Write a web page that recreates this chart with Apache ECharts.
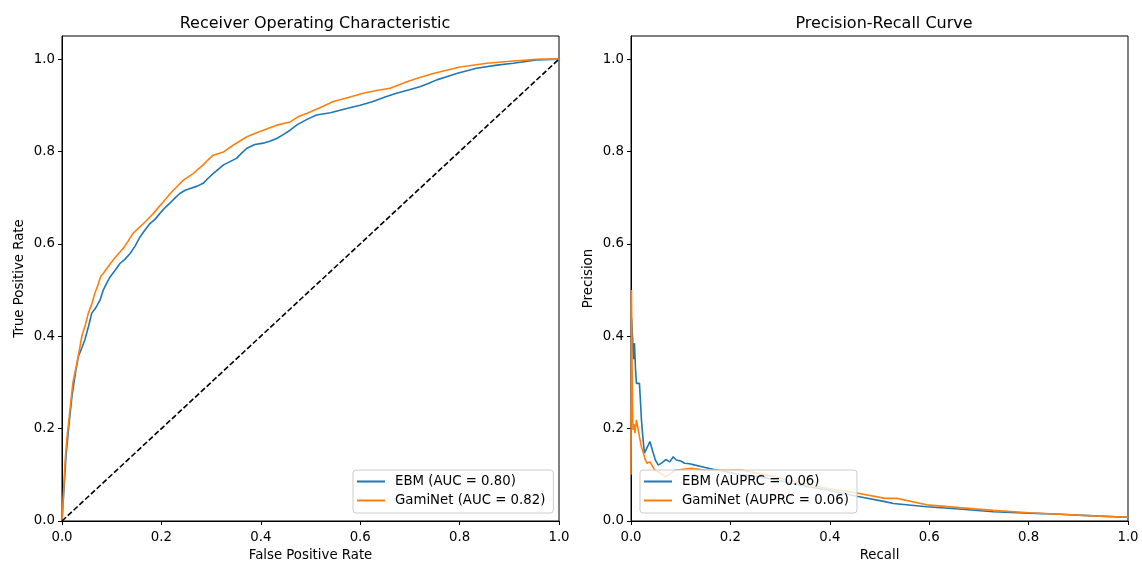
<!DOCTYPE html>
<html>
<head>
<meta charset="utf-8">
<script src="https://cdn.jsdelivr.net/npm/echarts@6/dist/echarts.min.js"></script>
<style>
html,body{margin:0;padding:0;background:#fff;}
#chart{width:1142px;height:563px;}
</style>
</head>
<body>
<div id="chart"></div>
<script>
// ---- Data ----
var titles = ['Receiver Operating Characteristic', 'Precision-Recall Curve'];
var tickValues = [0, 0.2, 0.4, 0.6, 0.8, 1.0];
var rocNames = ['EBM (AUC = 0.80)', 'GamiNet (AUC = 0.82)'];
var prNames = ['EBM (AUPRC = 0.06)', 'GamiNet (AUPRC = 0.06)'];

var rocFprEbm = [0, 0.004, 0.008, 0.013, 0.02, 0.027, 0.033, 0.04, 0.046, 0.053, 0.06, 0.067, 0.0765, 0.083, 0.09, 0.097, 0.107, 0.117, 0.127, 0.137, 0.147, 0.157, 0.167, 0.177, 0.187, 0.197, 0.207, 0.217, 0.227, 0.237, 0.248, 0.258, 0.272, 0.284, 0.294, 0.304, 0.315, 0.325, 0.338, 0.351, 0.362, 0.372, 0.388, 0.405, 0.418, 0.432, 0.446, 0.459, 0.472, 0.492, 0.512, 0.54, 0.573, 0.6, 0.626, 0.65, 0.673, 0.697, 0.72, 0.737, 0.754, 0.774, 0.794, 0.834, 0.875, 0.908, 0.955, 1];
var rocTprEbm = [0, 0.07, 0.14, 0.197, 0.27, 0.32, 0.356, 0.375, 0.392, 0.42, 0.45, 0.46, 0.478, 0.5, 0.515, 0.529, 0.543, 0.558, 0.567, 0.579, 0.595, 0.615, 0.63, 0.644, 0.653, 0.666, 0.678, 0.688, 0.699, 0.709, 0.716, 0.72, 0.725, 0.731, 0.742, 0.752, 0.762, 0.771, 0.778, 0.785, 0.797, 0.807, 0.815, 0.818, 0.822, 0.828, 0.837, 0.846, 0.857, 0.869, 0.879, 0.884, 0.893, 0.9, 0.908, 0.918, 0.926, 0.933, 0.94, 0.947, 0.955, 0.962, 0.969, 0.98, 0.987, 0.991, 0.998, 1];

var rocFprGami = [0, 0.003, 0.006, 0.01, 0.016, 0.022, 0.03, 0.04, 0.047, 0.053, 0.06, 0.066, 0.072, 0.078, 0.083, 0.093, 0.103, 0.113, 0.123, 0.133, 0.143, 0.154, 0.164, 0.174, 0.184, 0.194, 0.204, 0.214, 0.224, 0.234, 0.244, 0.254, 0.264, 0.274, 0.284, 0.294, 0.304, 0.325, 0.345, 0.372, 0.388, 0.405, 0.432, 0.459, 0.475, 0.492, 0.52, 0.546, 0.576, 0.606, 0.633, 0.66, 0.694, 0.72, 0.747, 0.774, 0.801, 0.855, 0.908, 0.962, 1];
var rocTprGami = [0, 0.06, 0.125, 0.18, 0.24, 0.3, 0.342, 0.4, 0.425, 0.45, 0.47, 0.493, 0.51, 0.53, 0.536, 0.551, 0.565, 0.578, 0.59, 0.606, 0.623, 0.634, 0.644, 0.655, 0.666, 0.679, 0.691, 0.704, 0.716, 0.727, 0.738, 0.745, 0.752, 0.762, 0.771, 0.782, 0.792, 0.799, 0.814, 0.832, 0.839, 0.846, 0.857, 0.864, 0.875, 0.882, 0.895, 0.908, 0.917, 0.926, 0.932, 0.937, 0.951, 0.96, 0.969, 0.976, 0.983, 0.991, 0.996, 1.0, 1.0];

var chanceX = [0, 1];
var chanceY = [0, 1];

var prRecEbm = [0, 0.001, 0.003, 0.005, 0.007, 0.009, 0.011, 0.014, 0.017, 0.019, 0.021, 0.024, 0.027, 0.031, 0.035, 0.038, 0.044, 0.049, 0.055, 0.062, 0.07, 0.078, 0.085, 0.091, 0.1, 0.108, 0.118, 0.129, 0.145, 0.165, 0.189, 0.22, 0.256, 0.3, 0.357, 0.4, 0.457, 0.511, 0.528, 0.595, 0.66, 0.729, 0.8, 0.863, 0.93, 1];
var prPrecEbm = [0.25, 0.44, 0.4, 0.35, 0.385, 0.33, 0.298, 0.3, 0.298, 0.26, 0.219, 0.18, 0.147, 0.15, 0.165, 0.172, 0.15, 0.132, 0.121, 0.126, 0.133, 0.128, 0.139, 0.132, 0.13, 0.125, 0.124, 0.121, 0.117, 0.112, 0.107, 0.1, 0.096, 0.087, 0.074, 0.066, 0.053, 0.042, 0.038, 0.031, 0.026, 0.02, 0.017, 0.0145, 0.011, 0.008];

var prRecGami = [0, 0.001, 0.002, 0.003, 0.004, 0.006, 0.008, 0.011, 0.014, 0.018, 0.021, 0.025, 0.028, 0.032, 0.038, 0.042, 0.048, 0.058, 0.068, 0.08, 0.089, 0.105, 0.122, 0.15, 0.189, 0.223, 0.26, 0.29, 0.357, 0.4, 0.457, 0.511, 0.535, 0.595, 0.66, 0.729, 0.8, 0.863, 0.93, 1];
var prPrecGami = [0.1, 0.5, 0.35, 0.25, 0.197, 0.21, 0.19, 0.219, 0.2, 0.204, 0.16, 0.147, 0.135, 0.125, 0.128, 0.125, 0.11, 0.105, 0.096, 0.103, 0.11, 0.112, 0.114, 0.11, 0.11, 0.11, 0.102, 0.096, 0.078, 0.07, 0.06, 0.049, 0.049, 0.035, 0.029, 0.023, 0.018, 0.0145, 0.011, 0.008];

// ---- Helpers ----
function zip(xs, ys) { return xs.map(function (x, i) { return [x, ys[i]]; }); }
var FONT = 'DejaVu Sans';
var FS = 13.3;
var BLUE = '#1f77b4', ORANGE = '#ff7f0e';

function fmt(v) {
  for (var i = 0; i < tickValues.length; i++) {
    if (Math.abs(v - tickValues[i]) < 1e-9) return tickValues[i].toFixed(1);
  }
  return '';
}
function xAxisCfg(grid, name) {
  return {
    type: 'value', gridIndex: grid, min: 0, max: 1, interval: 0.2,
    name: name, nameLocation: 'middle', nameGap: 28,
    nameTextStyle: { fontFamily: FONT, fontSize: FS, color: '#000' },
    axisLine: { show: true, onZero: false, lineStyle: { color: '#000', width: 1 } },
    axisTick: { show: true, inside: false, length: 4, lineStyle: { color: '#000' } },
    axisLabel: { fontFamily: FONT, fontSize: FS, color: '#000', margin: 10, formatter: fmt, showMaxLabel: true },
    splitLine: { show: false }
  };
}
function yAxisCfg(grid, name) {
  return {
    type: 'value', gridIndex: grid, min: 0, max: 1.05, interval: 0.2,
    name: name, nameLocation: 'middle', nameGap: 36, nameRotate: 90,
    nameTextStyle: { fontFamily: FONT, fontSize: FS, color: '#000' },
    axisLine: { show: true, onZero: false, lineStyle: { color: '#000', width: 1 } },
    axisTick: { show: true, inside: false, length: 4, lineStyle: { color: '#000' },
      customValues: tickValues },
    axisLabel: { fontFamily: FONT, fontSize: FS, color: '#000', margin: 7, formatter: fmt,
      customValues: tickValues },
    splitLine: { show: false }
  };
}
function lineSeries(name, xi, yi, data, color) {
  return {
    name: name, type: 'line', xAxisIndex: xi, yAxisIndex: yi, data: data,
    showSymbol: false, symbol: 'none', smooth: false, animation: false,
    lineStyle: { color: color, width: 1.6 }, itemStyle: { color: color },
    clip: true
  };
}
var legendIcon = 'path://M0,0 L28,0 L28,2 L0,2 Z';
function legendCfg(left, top, names) {
  return {
    data: names, orient: 'vertical', left: left, top: top,
    icon: legendIcon, itemWidth: 28, itemHeight: 2, itemGap: 6,
    padding: [5, 8, 6, 4],
    backgroundColor: 'rgba(255,255,255,0.8)', borderColor: '#cccccc', borderWidth: 1, borderRadius: 3,
    textStyle: { fontFamily: FONT, fontSize: FS, color: '#000', padding: [0, 0, 0, 5] },
    selectedMode: false
  };
}
function gridCfg(left) {
  return { left: left, top: 36, width: 497, height: 485, show: true, borderColor: '#000', borderWidth: 1,
    backgroundColor: 'transparent', containLabel: false, outerBoundsMode: 'none' };
}

var chart = echarts.init(document.getElementById('chart'), null, { renderer: 'canvas' });
chart.setOption({
  backgroundColor: '#fff',
  animation: false,
  title: [
    { text: titles[0], left: 310, top: 11, textAlign: 'center',
      textStyle: { fontFamily: FONT, fontSize: 16, fontWeight: 'normal', color: '#000' } },
    { text: titles[1], left: 879, top: 11, textAlign: 'center',
      textStyle: { fontFamily: FONT, fontSize: 16, fontWeight: 'normal', color: '#000' } }
  ],
  grid: [gridCfg(62), gridCfg(631)],
  xAxis: [xAxisCfg(0, 'False Positive Rate'), xAxisCfg(1, 'Recall')],
  yAxis: [yAxisCfg(0, 'True Positive Rate'), yAxisCfg(1, 'Precision')],
  legend: [legendCfg(353, 470, rocNames), legendCfg(640, 470, prNames)],
  series: [
    lineSeries(rocNames[0], 0, 0, zip(rocFprEbm, rocTprEbm), BLUE),
    lineSeries(rocNames[1], 0, 0, zip(rocFprGami, rocTprGami), ORANGE),
    {
      name: 'chance', type: 'line', xAxisIndex: 0, yAxisIndex: 0, data: zip(chanceX, chanceY),
      showSymbol: false, symbol: 'none', animation: false,
      lineStyle: { color: '#000', width: 1.6, type: [5.5, 2.4] }
    },
    lineSeries(prNames[0], 1, 1, zip(prRecEbm, prPrecEbm), BLUE),
    lineSeries(prNames[1], 1, 1, zip(prRecGami, prPrecGami), ORANGE)
  ]
});
</script>
</body>
</html>
